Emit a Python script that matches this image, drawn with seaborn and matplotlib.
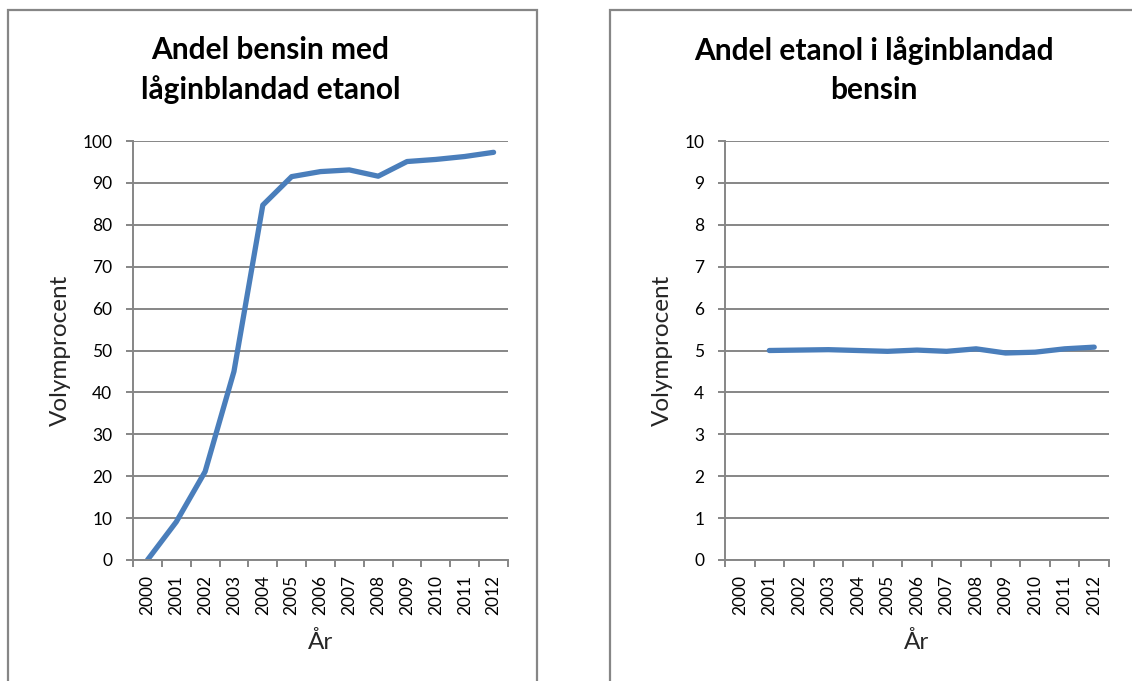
import matplotlib
matplotlib.use("Agg")
import matplotlib.pyplot as plt
from matplotlib.patches import Rectangle
import seaborn as sns
import pandas as pd
import numpy as np

# data
years = list(range(2000, 2013))
andel_bensin = [0, 9.1, 21.1, 45.0, 84.7, 91.5, 92.7, 93.1, 91.6, 95.1, 95.6, 96.3, 97.3]
andel_etanol = [np.nan, 5.0, 5.01, 5.02, 5.0, 4.98, 5.01, 4.98, 5.04, 4.94, 4.96, 5.04, 5.08]

titles = ["Andel bensin med\nlåginblandad etanol", "Andel etanol i låginblandad\nbensin"]
ylims = [(0, 100), (0, 10)]
ysteps = [10, 1]

sns.set_theme(style="white")
plt.rcParams['font.family'] = ['Lato', 'DejaVu Sans']

W, H = 1132, 681
fig = plt.figure(figsize=(W / 100, H / 100), dpi=100)

grey = "#868686"
blue = "#4A7EBB"

# pixel boxes: (axes left, axes right, frame left, frame right)
layout = [(133, 508, 8, 537), (725, 1109, 610, 1140)]
top, bottom = 141, 560

for i, (vals, title) in enumerate(zip([andel_bensin, andel_etanol], titles)):
    x0, x1, fx0, fx1 = layout[i]
    ax = fig.add_axes([x0 / W, (H - bottom) / H, (x1 - x0) / W, (bottom - top) / H])
    df = pd.DataFrame({"År": years, "Volymprocent": vals}).dropna()
    sns.lineplot(data=df, x="År", y="Volymprocent", ax=ax, color=blue,
                 linewidth=3.8, solid_capstyle="round", solid_joinstyle="round")

    lo, hi = ylims[i]
    ticks = np.arange(lo, hi + ysteps[i] / 2, ysteps[i])
    ax.set_ylim(lo, hi)
    ax.set_xlim(years[0] - 0.5, years[-1] + 0.5)
    ax.set_yticks(ticks)
    ax.set_yticklabels([str(int(v)) for v in ticks])
    ax.yaxis.grid(True, color=grey, linewidth=1.4)
    ax.set_axisbelow(True)

    # category ticks between the years, labels at the years
    ax.set_xticks(np.arange(years[0] - 0.5, years[-1] + 1, 1))
    ax.set_xticklabels([])
    ax.set_xticks(years, minor=True)
    ax.set_xticklabels([str(y) for y in years], minor=True, rotation=90)
    ax.tick_params(axis="x", which="major", length=5, width=1.4, color=grey, direction="out", bottom=True)
    ax.tick_params(axis="x", which="minor", length=0, pad=11, labelsize=12.5, labelcolor="black")
    ax.tick_params(axis="y", length=5, width=1.4, color=grey, direction="out", left=True,
                   pad=10, labelsize=12.5, labelcolor="black")

    for side in ["top", "right"]:
        ax.spines[side].set_visible(False)
    for side in ["left", "bottom"]:
        ax.spines[side].set_color(grey)
        ax.spines[side].set_linewidth(1.4)

    ax.set_xlabel("År", fontsize=17.5, labelpad=11)
    ax.set_ylabel("Volymprocent", fontsize=17.5, labelpad=8)

    cx = (x0 + x1) / 2 + (-50 if i == 0 else -43)
    fig.text(cx / W, 1 - 70 / H, title, ha="center", va="center", fontsize=21.5,
             fontweight="bold", linespacing=1.45, color="black")

    fig.add_artist(Rectangle((fx0 / W, -0.1), (fx1 - fx0) / W, 1.1 - 10 / H,
                             transform=fig.transFigure, fill=False, edgecolor=grey, linewidth=1.6))

fig.savefig("out.png", dpi=100)
